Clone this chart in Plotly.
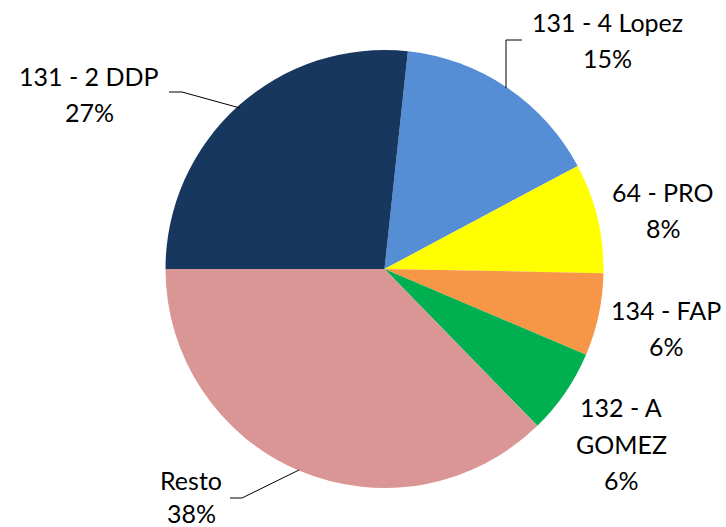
import plotly.graph_objects as go

W, H = 726, 527

labels = ["131 - 4 Lopez", "64 - PRO", "134 - FAP", "132 - A GOMEZ", "Resto", "131 - 2 DDP"]
values = [15.5, 8.1, 6.1, 6.3, 37.3, 26.7]
pct_labels = ["15%", "8%", "6%", "6%", "38%", "27%"]
colors = ["#558ED5", "#FFFF00", "#F79646", "#00B050", "#D99694", "#17375E"]

# label lines as displayed, centre of first line (pixels) and line gap
label_lines = [["131 - 4 Lopez"], ["64 - PRO"], ["134 - FAP"], ["132 - A", "GOMEZ"], ["Resto"], ["131 - 2 DDP"]]
label_pos = [(607, 22), (663, 192), (666, 310), (621, 407), (191, 480), (89, 76)]
label_gap = [36, 36, 36, 36.5, 33, 36]

# leader lines in pixels
leaders = [
    [(522, 40), (506, 40), (506, 88)],
    [(169, 92), (182, 92), (240, 108)],
    [(230, 498), (242, 498), (299, 470)],
]

cx, cy, r = 384.5, 269, 219
rot = 270 - sum(values[:5]) / sum(values) * 360

fig = go.Figure(go.Pie(
    labels=labels,
    values=values,
    sort=False,
    direction="clockwise",
    rotation=rot,
    marker=dict(colors=colors, line=dict(width=0)),
    textinfo="none",
    hoverinfo="label+percent",
    showlegend=False,
    domain=dict(x=[(cx - r) / W, (cx + r) / W], y=[1 - (cy + r) / H, 1 - (cy - r) / H]),
))

font = dict(family="Lato, Carlito, Calibri, sans-serif", size=25, color="#000000")
for lines, pct, (x, y), gap in zip(label_lines, pct_labels, label_pos, label_gap):
    for i, txt in enumerate(lines + [pct]):
        fig.add_annotation(
            x=x / W, y=1 - (y + i * gap) / H, xref="paper", yref="paper",
            text=txt, showarrow=False, align="center",
            xanchor="center", yanchor="middle", font=font, borderpad=0,
        )

for pts in leaders:
    path = "M " + " L ".join(f"{x / W},{1 - y / H}" for x, y in pts)
    fig.add_shape(type="path", path=path, xref="paper", yref="paper",
                  line=dict(color="#000000", width=1))

fig.update_layout(
    width=W, height=H,
    margin=dict(l=0, r=0, t=0, b=0),
    paper_bgcolor="white", plot_bgcolor="white",
)

fig.write_html(
    "out.html",
    config={"displayModeBar": False},
    post_script="document.body.style.margin='0';document.body.style.overflow='hidden';",
)
